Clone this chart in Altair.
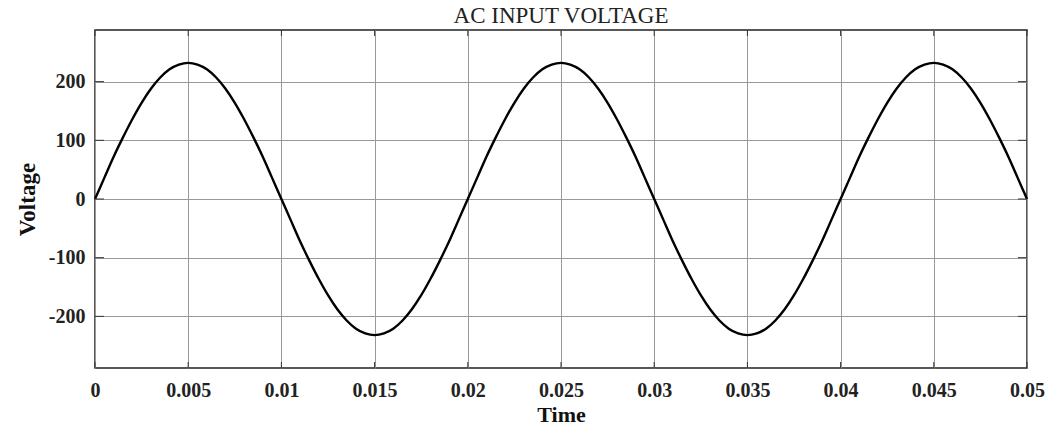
import altair as alt
import pandas as pd

# time samples (s) and voltage values
time_s = [round(i * 0.0005, 4) for i in range(101)]
half_pos = [0, 36, 72, 105, 136, 164, 188, 207, 221, 229, 232,
            229, 221, 207, 188, 164, 136, 105, 72, 36]
half_neg = [0, -36, -72, -105, -136, -164, -188, -207, -221, -229, -232,
            -229, -221, -207, -188, -164, -136, -105, -72, -36]
voltage = half_pos + half_neg + half_pos + half_neg + half_pos + [0]

x_ticks = [0, 0.005, 0.01, 0.015, 0.02, 0.025, 0.03, 0.035, 0.04, 0.045, 0.05]
y_ticks = [-200, -100, 0, 100, 200]

df = pd.DataFrame({"t": time_s, "v": voltage})

FONT = "Liberation Serif"
W, H = 932, 338

xscale = alt.Scale(domain=[0, 0.05], nice=False, zero=False)
yscale = alt.Scale(domain=[-288, 288], nice=False, zero=False)
x_axis = alt.Axis(values=x_ticks, labelExpr="'' + datum.value", grid=True, tickSize=0,
                  labelPadding=12, titlePadding=4, labelFlush=False, labelOverlap=False,
                  titleFontSize=22)
y_axis = alt.Axis(values=y_ticks, labelExpr="'' + datum.value", grid=True, tickSize=0,
                  labelPadding=10, titlePadding=9, titleFontSize=23)

line = alt.Chart(df).mark_line(color="black", strokeWidth=2.4, interpolate="monotone").encode(
    x=alt.X("t:Q", scale=xscale, title="Time", axis=x_axis),
    y=alt.Y("v:Q", scale=yscale, title="Voltage", axis=y_axis),
)

xt = pd.DataFrame({"t": x_ticks})
yt = pd.DataFrame({"v": y_ticks})
xtick_bot = alt.Chart(xt).mark_rule(color="#333", strokeWidth=1).encode(
    x=alt.X("t:Q", scale=xscale, title="Time", axis=x_axis), y=alt.value(H - 6), y2=alt.value(H))
xtick_top = alt.Chart(xt).mark_rule(color="#333", strokeWidth=1).encode(
    x=alt.X("t:Q", scale=xscale, title="Time", axis=x_axis), y=alt.value(0), y2=alt.value(6))
ytick_l = alt.Chart(yt).mark_rule(color="#333", strokeWidth=1).encode(
    y=alt.Y("v:Q", scale=yscale, title="Voltage", axis=y_axis), x=alt.value(0), x2=alt.value(9))
ytick_r = alt.Chart(yt).mark_rule(color="#333", strokeWidth=1).encode(
    y=alt.Y("v:Q", scale=yscale, title="Voltage", axis=y_axis), x=alt.value(W - 9), x2=alt.value(W))

chart = alt.layer(line, xtick_bot, xtick_top, ytick_l, ytick_r).properties(
    width=W, height=H,
    background="white",
    title=alt.TitleParams("AC INPUT VOLTAGE", font=FONT, fontSize=23, fontWeight="normal",
                          color="#222", offset=2, anchor="middle"),
    autosize=alt.AutoSizeParams(type="none"),
    padding={"left": 95, "top": 30, "right": 24, "bottom": 62},
).configure_view(
    stroke="#222", strokeWidth=1.5
).configure_axis(
    labelFont=FONT, labelFontSize=20, labelFontWeight="bold", labelColor="#222",
    titleFont=FONT, titleFontWeight="bold", titleColor="#111",
    gridColor="#999", gridWidth=1, gridOpacity=1, domain=False,
)

chart.save("out.html", embed_options={"renderer": "svg", "actions": False})
